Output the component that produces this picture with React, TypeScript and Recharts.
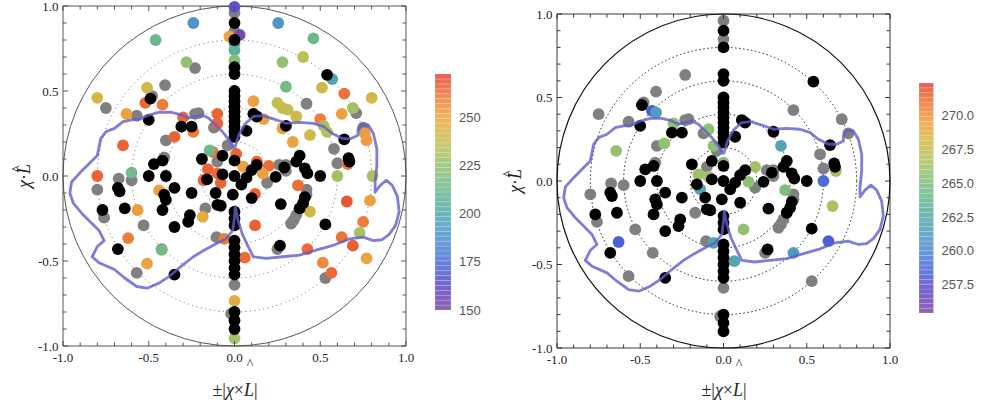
import React from 'react';
import { ScatterChart, Scatter, XAxis, YAxis, ReferenceLine, ReferenceArea } from 'recharts';

// axis ticks, every 0.1, labels only on the halves
const axisTicks = [-1, -0.9, -0.8, -0.7, -0.6, -0.5, -0.4, -0.3, -0.2, -0.1, 0, 0.1, 0.2, 0.3, 0.4, 0.5, 0.6, 0.7, 0.8, 0.9, 1];
const labelledTicks = [-1, -0.5, 0, 0.5, 1];
const ringRadii = [0.2, 0.4, 0.6, 0.8];

// colour bar ranges and ticks
const leftRange: [number, number] = [150, 272.4];
const leftBarTicks = [150, 175, 200, 225, 250];
const rightRange: [number, number] = [255.4, 272.4];
const rightBarTicks = [257.5, 260, 262.5, 265, 267.5, 270];

// points without a value (grey), shared by both panels
const greyPoints = [
  [0, 0.96], [0, 0.85], [0, -0.64], [-0.02, -0.81],
  [-0.23, 0.635], [-0.405, 0.535], [-0.48, 0.47], [-0.75, 0.4], [-0.57, 0.355], [-0.23, 0.365], [-0.21, 0.37],
  [-0.4, 0.21], [-0.12, 0.285], [-0.04, 0.18], [-0.1, 0.085], [-0.41, 0.11], [-0.675, -0.015], [-0.6, -0.025],
  [-0.8, -0.08], [-0.76, -0.245], [-0.53, -0.29], [-0.17, -0.19], [-0.105, -0.36], [-0.425, -0.43], [-0.57, -0.57],
  [0.42, 0.425], [0.71, 0.37], [0.75, 0.285], [0.58, 0.16], [0.6, 0.075], [0.26, 0.065], [0.3, 0.065], [0.3, 0.03],
  [0.19, -0.04], [0.42, -0.08], [0.42, -0.11], [0.38, -0.19], [0.36, -0.23], [0.345, -0.26], [0.33, -0.28],
  [0.25, -0.43], [0.53, -0.6],
];

// points with the highest weight (black), shared by both panels
const blackPoints = [
  [0, 0.9], [0, 0.8], [0, 0.64], [0, 0.6], [0, 0.5], [0, 0.47], [0, 0.44], [0, 0.41], [0, 0.38], [0, 0.35],
  [0, 0.32], [0, 0.29], [0, 0.26], [0, 0.23], [0, 0.09], [0, 0], [-0.01, -0.11], [0, -0.21], [0, -0.25], [0, -0.29],
  [0, -0.38], [0, -0.42], [0, -0.46], [0, -0.5], [0, -0.54], [0, -0.58], [0, -0.8], [0, -0.85], [0, -0.9],
  [0.54, 0.595], [-0.49, 0.455], [-0.5, 0.33], [-0.31, 0.29], [-0.25, 0.29], [0.11, 0.365], [0.13, 0.35],
  [0.07, 0.265], [0.3, 0.295], [0.64, 0.215], [0.665, 0.105], [0.67, 0.085], [-0.19, 0.1], [-0.07, 0.12],
  [-0.47, 0.07], [-0.42, 0.09], [-0.5, 0], [-0.4, 0], [-0.16, -0.02], [-0.07, 0.01], [0.1, 0.035], [0.13, 0.065],
  [0.07, -0.01], [0.04, -0.05], [0.24, -0.005], [0.29, 0.05], [0.38, 0.12], [0.36, 0.085], [0.41, 0.045],
  [0.425, 0.015], [0.5, 0], [-0.68, -0.07], [-0.67, -0.09], [-0.77, -0.2], [-0.64, -0.19], [-0.41, -0.11],
  [-0.4, -0.14], [-0.42, -0.2], [-0.35, -0.07], [-0.25, -0.1], [-0.11, -0.1], [-0.1, -0.17], [-0.08, -0.175],
  [0.1, -0.13], [0.27, -0.165], [0.41, -0.125], [0.4, -0.16], [0.38, -0.19], [-0.26, -0.23], [-0.27, -0.27],
  [-0.35, -0.3], [0.53, -0.285], [-0.68, -0.43], [0.265, -0.41], [-0.35, -0.58],
];

// [x, y, value] for the wide range panel
const leftValued = [
  [-0.24, 0.9, 190], [0.255, 0.9, 190], [-0.46, 0.8, 212], [0.46, 0.81, 213], [-0.28, 0.67, 225], [0.28, 0.67, 225],
  [0.4, 0.7, 236], [0.3, 0.525, 216], [0.57, 0.57, 196], [-0.51, 0.52, 240], [0.51, 0.52, 240], [-0.8, 0.46, 243],
  [0.8, 0.46, 241], [0.64, 0.485, 262], [-0.42, 0.42, 260], [-0.52, 0.43, 264], [-0.63, 0.365, 251], [0.11, 0.44, 251],
  [0.25, 0.43, 238], [0.28, 0.4, 238], [0.31, 0.39, 237], [0.625, 0.365, 251], [0.69, 0.4, 229], [0.17, 0.335, 251],
  [0.36, 0.35, 239], [0.28, 0.28, 251], [0.5, 0.335, 260], [0.52, 0.295, 231], [0.54, 0.26, 233], [0.76, 0.25, 252],
  [0.77, 0.21, 252], [0.44, 0.24, 241], [0.34, 0.2, 249], [-0.3, 0.345, 264], [-0.24, 0.26, 260], [-0.35, 0.23, 265],
  [-0.65, 0.18, 265], [-0.1, 0.365, 265], [-0.1, 0.31, 265], [-0.125, 0.14, 262], [-0.145, 0.15, 214], [0.01, 0.13, 265],
  [0.13, 0.085, 265], [0.2, 0.06, 264], [0.05, 0.055, 251], [0.165, 0.015, 251], [-0.155, 0.04, 265], [-0.18, -0.025, 265],
  [-0.1, 0.015, 264], [-0.08, -0.04, 265], [0.12, -0.105, 265], [0.37, -0.055, 263], [0.66, 0.07, 262], [0.6, 0, 229],
  [0.805, 0, 230], [-0.8, 0, 265], [-0.6, 0.02, 215], [-0.44, -0.085, 251], [-0.565, -0.2, 252], [-0.185, -0.24, 247],
  [-0.62, -0.365, 260], [-0.425, -0.435, 215], [-0.51, -0.515, 250], [-0.06, -0.37, 260], [0, -0.735, 247],
  [0, -0.955, 229], [0.655, -0.15, 268], [0.79, -0.145, 251], [0.12, -0.29, 266], [0.44, -0.21, 241], [0.75, -0.27, 260],
  [0.73, -0.335, 230], [0.625, -0.36, 262], [0.69, -0.41, 266], [0.425, -0.43, 264], [0.515, -0.51, 257],
  [0.565, -0.57, 264], [0.77, -0.485, 250], [0.06, -0.48, 264], [0, 0.995, 165], [0.03, 0.83, 152], [-0.03, 0.82, 250],
  [0, 0.78, 200], [0, 0.74, 206], [0, 0.68, 220],
];

// [x, y, value] for the narrow range panel
const rightValued = [
  [-0.43, 0.42, 258.3], [-0.405, 0.41, 261.5], [-0.645, 0.18, 265.8], [-0.355, 0.225, 265.8], [-0.3, 0.345, 265.8],
  [-0.09, 0.31, 265.8], [-0.06, 0.21, 265.5], [0, 0.11, 265.5], [-0.15, 0.04, 266.2], [-0.09, 0.025, 266.5],
  [-0.14, -0.05, 262], [0.19, 0.085, 266.3], [0.15, -0.005, 265.5], [0.345, 0.21, 262], [0.37, -0.055, 264.8],
  [0.6, 0, 258.8], [0.675, 0.06, 266.5], [0.655, -0.15, 266.6], [0.12, -0.29, 265.8], [-0.63, -0.365, 258.3],
  [-0.06, -0.37, 262], [0.065, -0.48, 262.2], [0.42, -0.43, 261.2], [0.63, -0.36, 258.2],
];

// boundary contour, closed
const contour = [
  [0, 0.16], [-0.03, 0.21], [-0.07, 0.26], [-0.11, 0.3], [-0.15, 0.34], [-0.19, 0.36], [-0.23, 0.35], [-0.27, 0.34],
  [-0.31, 0.36], [-0.37, 0.375], [-0.44, 0.375], [-0.51, 0.355], [-0.55, 0.335], [-0.6, 0.33], [-0.65, 0.32],
  [-0.7, 0.28], [-0.75, 0.26], [-0.78, 0.22], [-0.79, 0.17], [-0.8, 0.12], [-0.85, 0.07], [-0.9, 0.02],
  [-0.95, -0.035], [-0.96, -0.1], [-0.94, -0.16], [-0.89, -0.22], [-0.84, -0.27], [-0.79, -0.32], [-0.76, -0.38],
  [-0.8, -0.415], [-0.83, -0.475], [-0.79, -0.51], [-0.7, -0.55], [-0.64, -0.6], [-0.57, -0.65], [-0.51, -0.66],
  [-0.44, -0.63], [-0.38, -0.59], [-0.31, -0.53], [-0.24, -0.475], [-0.175, -0.435], [-0.11, -0.4], [-0.05, -0.37],
  [-0.01, -0.32], [0, -0.24], [0.005, -0.18], [0.02, -0.26], [0.045, -0.34], [0.08, -0.415], [0.11, -0.475],
  [0.185, -0.485], [0.28, -0.475], [0.38, -0.465], [0.48, -0.435], [0.57, -0.41], [0.67, -0.37], [0.75, -0.36],
  [0.81, -0.38], [0.86, -0.375], [0.9, -0.345], [0.94, -0.29], [0.96, -0.21], [0.95, -0.12], [0.92, -0.055],
  [0.885, -0.025], [0.85, -0.055], [0.82, -0.095], [0.82, -0.035], [0.83, 0.06], [0.83, 0.16], [0.81, 0.25],
  [0.78, 0.3], [0.74, 0.3], [0.72, 0.27], [0.72, 0.24], [0.68, 0.22], [0.63, 0.22], [0.57, 0.25], [0.52, 0.29],
  [0.46, 0.31], [0.38, 0.315], [0.3, 0.31], [0.23, 0.335], [0.165, 0.355], [0.11, 0.35], [0.06, 0.305],
  [0.025, 0.24], [0, 0.16],
];

const colorStops: [number, string][] = [
  [0.0, '#7b4aa5'], [0.08, '#6644bf'], [0.17, '#4d5fd6'], [0.26, '#4c83d3'], [0.35, '#4f9cc2'],
  [0.43, '#56aba2'], [0.52, '#6eb98a'], [0.6, '#8ec173'], [0.68, '#b3c25b'], [0.75, '#d5b844'],
  [0.82, '#eda33f'], [0.89, '#f0813a'], [0.95, '#eb5e33'], [1.0, '#e2403a'],
];

const hex = (c: string) => [1, 3, 5].map((i) => parseInt(c.slice(i, i + 2), 16));

function colormap(t: number) {
  const u = Math.max(0, Math.min(1, t));
  for (let i = 1; i < colorStops.length; i++) {
    const [t1, c1] = colorStops[i];
    const [t0, c0] = colorStops[i - 1];
    if (u <= t1) {
      const f = (u - t0) / (t1 - t0);
      const a = hex(c0);
      const b = hex(c1);
      const m = a.map((v, k) => Math.round(v + (b[k] - v) * f));
      return `rgb(${m[0]},${m[1]},${m[2]})`;
    }
  }
  return colorStops[colorStops.length - 1][1];
}

const serif = "'Liberation Serif', 'Times New Roman', serif";
const sans = "'Liberation Sans', Arial, sans-serif";
const R = 5.9;

const toXY = (pts: number[][]) => pts.map(([x, y]) => ({ x, y }));
const toXYV = (pts: number[][]) => pts.map(([x, y, v]) => ({ x, y, v }));

type PanelProps = {
  left: number;
  plotLeft: number;
  plotTop: number;
  plotW: number;
  plotH: number;
  valued: number[][];
  range: [number, number];
  axisStroke: string;
  ringStroke: string;
  ringDash: string;
  outerStroke: string;
  outerWidth: number;
};

function Panel(p: PanelProps) {
  const W = 420;
  const H = 408;
  const yAxisW = 40;
  const xAxisH = 30;
  const span = p.range[1] - p.range[0];

  const xTick = (props: any) => {
    const { x, y, payload } = props;
    const major = labelledTicks.includes(payload.value);
    const len = major ? 5 : 3.5;
    return (
      <g>
        <line x1={x} x2={x} y1={y} y2={y - len} stroke={p.axisStroke} strokeWidth={0.9} />
        <line x1={x} x2={x} y1={y - p.plotH} y2={y - p.plotH + len} stroke={p.axisStroke} strokeWidth={0.9} />
        {major && (
          <text x={x} y={y + 15.5} textAnchor="middle" fontFamily={serif} fontSize={13} fill="#222">
            {payload.value.toFixed(1)}
          </text>
        )}
      </g>
    );
  };

  const yTick = (props: any) => {
    const { x, y, payload } = props;
    const major = labelledTicks.includes(payload.value);
    const len = major ? 5 : 3.5;
    return (
      <g>
        <line x1={x} x2={x + len} y1={y} y2={y} stroke={p.axisStroke} strokeWidth={0.9} />
        <line x1={x + p.plotW} x2={x + p.plotW - len} y1={y} y2={y} stroke={p.axisStroke} strokeWidth={0.9} />
        {major && (
          <text x={x - 4.5} y={y + 4.5} textAnchor="end" fontFamily={serif} fontSize={13} fill="#222">
            {payload.value.toFixed(1)}
          </text>
        )}
      </g>
    );
  };

  const rings = (props: any) => {
    const { cx, cy } = props;
    const sx = p.plotW / 2;
    const sy = p.plotH / 2;
    return (
      <g fill="none">
        {ringRadii.map((r) => (
          <ellipse key={r} cx={cx} cy={cy} rx={r * sx} ry={r * sy} stroke={p.ringStroke} strokeWidth={1} strokeDasharray={p.ringDash} />
        ))}
        <ellipse cx={cx} cy={cy} rx={sx} ry={sy} stroke={p.outerStroke} strokeWidth={p.outerWidth} />
      </g>
    );
  };

  return (
    <div style={{ position: 'absolute', left: p.left, top: 0 }}>
      <ScatterChart
        width={W}
        height={H}
        margin={{
          top: p.plotTop,
          left: p.plotLeft - yAxisW,
          right: W - p.plotLeft - p.plotW,
          bottom: H - p.plotTop - p.plotH - xAxisH,
        }}
      >
        <XAxis
          type="number"
          dataKey="x"
          domain={[-1, 1]}
          ticks={axisTicks}
          interval={0}
          height={xAxisH}
          tickSize={0}
          tickMargin={0}
          tickLine={false}
          axisLine={{ stroke: p.axisStroke, strokeWidth: 0.9 }}
          tick={xTick}
        />
        <YAxis
          type="number"
          dataKey="y"
          domain={[-1, 1]}
          ticks={axisTicks}
          interval={0}
          width={yAxisW}
          tickSize={0}
          tickMargin={0}
          tickLine={false}
          axisLine={{ stroke: p.axisStroke, strokeWidth: 0.9 }}
          tick={yTick}
        />
        <ReferenceLine y={1} stroke={p.axisStroke} strokeWidth={0.9} />
        <ReferenceLine x={1} stroke={p.axisStroke} strokeWidth={0.9} />
        <Scatter data={[{ x: 0, y: 0 }]} isAnimationActive={false} shape={rings} />
        <Scatter
          data={toXY(greyPoints)}
          isAnimationActive={false}
          shape={(s: any) => <circle cx={s.cx} cy={s.cy} r={R} fill="#808080" />}
        />
        <Scatter
          data={toXYV(p.valued)}
          isAnimationActive={false}
          shape={(s: any) => (
            <circle cx={s.cx} cy={s.cy} r={R} fill={colormap((s.payload.v - p.range[0]) / span)} />
          )}
        />
        <Scatter
          data={toXY(blackPoints)}
          isAnimationActive={false}
          shape={(s: any) => <circle cx={s.cx} cy={s.cy} r={R} fill="#000" />}
        />
        <Scatter
          data={toXY(contour)}
          isAnimationActive={false}
          line={{ stroke: '#5f5ccc', strokeWidth: 2.8, strokeOpacity: 0.8, strokeLinejoin: 'round' }}
          lineType="joint"
          shape={() => <g />}
        />
      </ScatterChart>
    </div>
  );
}

type BarProps = {
  left: number;
  top: number;
  bottom: number;
  barW: number;
  range: [number, number];
  ticks: number[];
  digits: number;
};

function ColorBar(b: BarProps) {
  const H = 408;
  const axisW = 49;
  const marginLeft = 15;
  const count = 48;
  const step = (b.range[1] - b.range[0]) / count;
  const bands = Array.from({ length: count }, (_, i) => ({
    lo: b.range[0] + i * step,
    hi: b.range[0] + (i + 1) * step,
    x: 0.5,
    y: b.range[0] + (i + 0.5) * step,
  }));
  return (
    <div style={{ position: 'absolute', left: b.left, top: 0 }}>
      <ScatterChart
        width={marginLeft + b.barW + axisW}
        height={H}
        margin={{ top: b.top, left: marginLeft, right: 0, bottom: H - b.bottom }}
      >
        <XAxis type="number" dataKey="x" domain={[0, 1]} hide />
        <YAxis
          type="number"
          dataKey="y"
          domain={b.range}
          orientation="right"
          ticks={b.ticks}
          interval={0}
          width={axisW}
          tickSize={0}
          tickMargin={8}
          tickLine={false}
          axisLine={false}
          tickFormatter={(v: number) => v.toFixed(b.digits)}
          tick={{ fill: '#555', fontSize: 13, fontFamily: sans }}
        />
        {bands.map((d, i) => (
          <ReferenceArea
            key={i}
            x1={0}
            x2={1}
            y1={d.lo}
            y2={d.hi}
            fill={colormap((d.y - b.range[0]) / (b.range[1] - b.range[0]))}
            fillOpacity={0.85}
            stroke="#ffffff"
            strokeOpacity={0.25}
            strokeWidth={0.6}
          />
        ))}
        <Scatter data={bands} isAnimationActive={false} shape={() => <g />} />
      </ScatterChart>
    </div>
  );
}

function XTitle({ cx }: { cx: number }) {
  return (
    <g fontFamily={serif} fill="#222">
      <text x={cx} y={396} textAnchor="middle" fontSize={18}>
        ±|<tspan fontStyle="italic">χ</tspan>×<tspan fontStyle="italic">L</tspan>|
      </text>
      <text x={cx + 15} y={369} textAnchor="middle" fontSize={14}>^</text>
    </g>
  );
}

function YTitle({ x, cy }: { x: number; cy: number }) {
  return (
    <g fontFamily={serif} fill="#222" transform={`translate(${x},${cy}) rotate(-90)`}>
      <text x={0} y={0} textAnchor="middle" fontSize={18}>
        <tspan fontStyle="italic">χ</tspan>·<tspan fontStyle="italic">L</tspan>
      </text>
      <text x={7} y={-8} textAnchor="middle" fontSize={14}>^</text>
    </g>
  );
}

export default function App() {
  return (
    <div style={{ position: 'absolute', left: 0, top: 0, width: 982, height: 408, background: '#fff' }}>
      <Panel
        left={0}
        plotLeft={63}
        plotTop={6}
        plotW={343}
        plotH={340}
        valued={leftValued}
        range={leftRange}
        axisStroke="#444"
        ringStroke="#666"
        ringDash="1 3.5"
        outerStroke="#444"
        outerWidth={0.9}
      />
      <ColorBar left={420} top={74} bottom={310} barW={16} range={leftRange} ticks={leftBarTicks} digits={0} />
      <Panel
        left={500}
        plotLeft={57}
        plotTop={14}
        plotW={333}
        plotH={334}
        valued={rightValued}
        range={rightRange}
        axisStroke="#222"
        ringStroke="#222"
        ringDash="1.5 2.5"
        outerStroke="#111"
        outerWidth={1.2}
      />
      <ColorBar left={904} top={83} bottom={313} barW={14.5} range={rightRange} ticks={rightBarTicks} digits={1} />
      <svg width={982} height={408} style={{ position: 'absolute', left: 0, top: 0, pointerEvents: 'none' }}>
        <XTitle cx={235} />
        <XTitle cx={724} />
        <YTitle x={30} cy={176} />
        <YTitle x={521} cy={181} />
      </svg>
    </div>
  );
}
